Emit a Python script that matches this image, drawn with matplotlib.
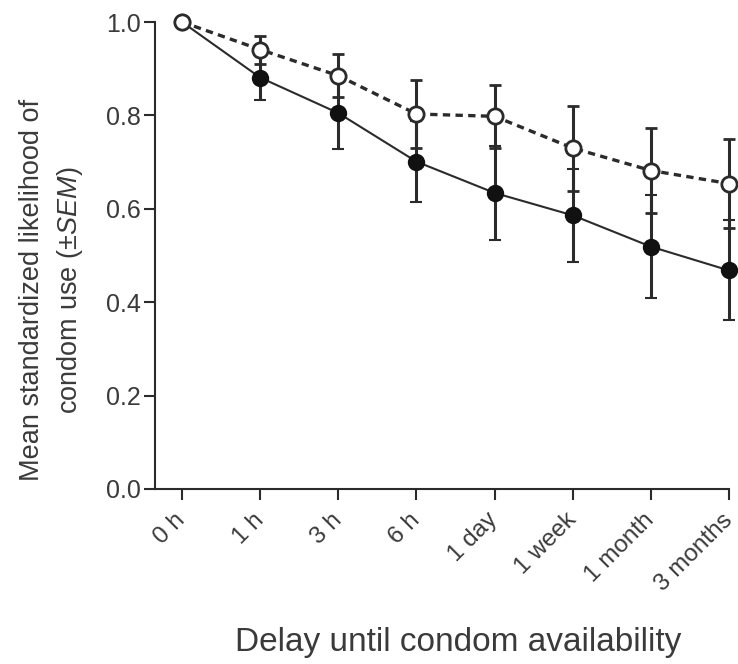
import matplotlib
matplotlib.use("Agg")
import matplotlib.pyplot as plt

categories = ["0 h", "1 h", "3 h", "6 h", "1 day", "1 week", "1 month", "3 months"]
filled_mean = [1.0, 0.881, 0.805, 0.701, 0.634, 0.586, 0.519, 0.468]
filled_sem = [0.0, 0.049, 0.077, 0.087, 0.100, 0.099, 0.110, 0.107]
open_mean = [1.0, 0.941, 0.885, 0.803, 0.798, 0.730, 0.682, 0.654]
open_sem = [0.0, 0.030, 0.046, 0.073, 0.068, 0.091, 0.092, 0.095]
yticks = [0.0, 0.2, 0.4, 0.6, 0.8, 1.0]

plt.rcParams['font.family'] = ['Liberation Sans', 'DejaVu Sans']
plt.rcParams['mathtext.fontset'] = 'custom'
plt.rcParams['mathtext.rm'] = 'Liberation Sans'
plt.rcParams['mathtext.it'] = 'Liberation Sans:italic'

dark = '#2b2b2b'
textc = '#3a3a3a'

fig = plt.figure(figsize=(7.38, 6.64), dpi=100)
W, H = 738, 664
left, right, top, bottom = 155, 729, 22, 489
ax = fig.add_axes([left / W, 1 - bottom / H, (right - left) / W, (bottom - top) / H])

x = list(range(len(categories)))

ax.errorbar(x, filled_mean, yerr=filled_sem, fmt='-o', color=dark, lw=1.5,
            ms=11, mfc='#111111', mec='#111111', mew=1.5, ecolor=dark,
            elinewidth=2.2, capsize=4, capthick=2.2, clip_on=False, zorder=3)
ax.errorbar(x, open_mean, yerr=open_sem, fmt='o', color=dark, ms=11,
            mfc='white', mec=dark, mew=2, ecolor=dark, elinewidth=2.2,
            capsize=4, capthick=2.2, clip_on=False, zorder=4)
ax.plot(x, open_mean, linestyle=(0, (2.2, 1.6)), color=dark, lw=2.4,
        clip_on=False, zorder=3.5)

ax.set_xlim(-0.346, 7)
ax.set_ylim(0, 1.0)
ax.set_yticks(yticks)
ax.set_yticklabels([f"{t:.1f}" for t in yticks])
ax.set_xticks(x)
ax.set_xticklabels(categories, rotation=45, ha='right', va='center',
                   rotation_mode='anchor')

for s in ['top', 'right']:
    ax.spines[s].set_visible(False)
for s in ['left', 'bottom']:
    ax.spines[s].set_color(dark)
    ax.spines[s].set_linewidth(1.5)

ax.tick_params(axis='both', colors=dark, width=1.5, length=8, labelsize=18,
               labelcolor=textc)
ax.tick_params(axis='x', pad=12, labelsize=17.5)
ax.tick_params(axis='y', pad=2)

ax.set_ylabel("Mean standardized likelihood of\ncondom use (±$\\mathit{SEM}$)",
              fontsize=19.5, color=textc, linespacing=1.45)
ax.yaxis.set_label_coords(-0.122, 0.426)
ax.set_xlabel("Delay until condom availability", fontsize=24, color=textc)
ax.xaxis.set_label_coords(0.528, -0.295)

fig.savefig("out.png", dpi=100, facecolor='white')
